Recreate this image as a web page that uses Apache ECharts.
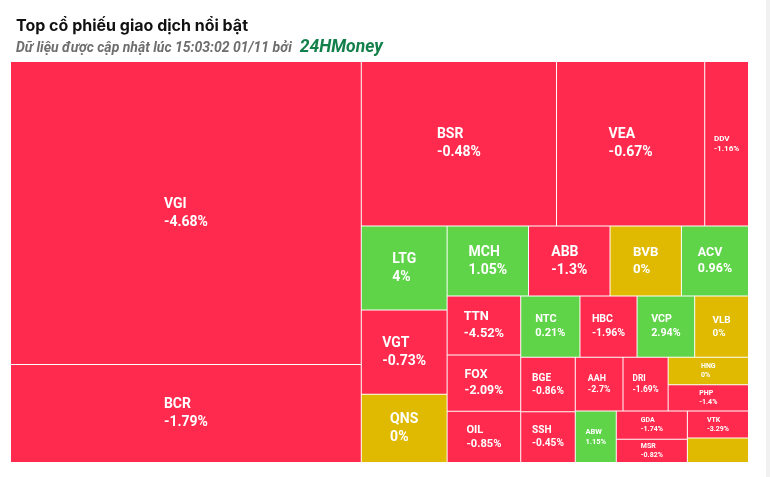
<!DOCTYPE html>
<html>
<head>
<meta charset="utf-8">
<script src="https://cdn.jsdelivr.net/npm/echarts@6/dist/echarts.min.js"></script>
<style>
html,body{margin:0;padding:0;background:#fff;}
#c{width:770px;height:477px;}
</style>
</head>
<body>
<div id="c"></div>
<script>
// ---- data ----
const names   = ['VGI','BCR','BSR','VEA','DDV','LTG','VGT','QNS','MCH','ABB','BVB','ACV','TTN','FOX','OIL','NTC','HBC','VCP','VLB','BGE','SSH','AAH','DRI','HNG','PHP','ABW','GDA','MSR','VTK',''];
const changes = [-4.68,-1.79,-0.48,-0.67,-1.16,4,-0.73,0,1.05,-1.3,0,0.96,-4.52,-2.09,-0.85,0.21,-1.96,2.94,0,-0.86,-0.45,-2.7,-1.69,0,-1.4,1.15,-1.74,-0.82,-3.29,0];
const values  = [10590,3422,3198,2427,717,720,720,583,569,570,499,469,431,414,375,361,348,351,328,296,276,256,242,220,211,210,200,164,164,149];
// grouping of the cells (indices into the arrays above), in reading order
const groups  = [0,1,2,3,4,5,6,7,[[8,9,10,11],[12,13,14,[[15,16,17,18],[19,20,[[21,22,[23,24]],[25,[26,27,28,29]]]]]]]];

const RED = '#ff2a4d', GREEN = '#5fd449', YELLOW = '#dfba00';
const colorOf = c => c > 0 ? GREEN : (c < 0 ? RED : YELLOW);
const pct = c => c + '%';
const changeOf = {};
names.forEach((n, i) => { if (n) changeOf[n] = changes[i]; });

function leaf(i, sizes) {
  const item = { name: names[i], value: values[i], itemStyle: { color: colorOf(changes[i]) } };
  if (!names[i]) item.label = { show: false };
  else if (sizes && sizes[i]) item.label = sizes[i];
  return item;
}
function build(spec, sizes) {
  return spec.map(s => Array.isArray(s) ? { name: '', children: build(s, sizes) } : leaf(s, sizes));
}

const chart = echarts.init(document.getElementById('c'), null, { renderer: 'canvas' });

const option = {
  animation: false,
  backgroundColor: '#fff',
  title: [
    { text: 'Top cổ phiếu giao dịch nổi bật', left: 11, top: 13,
      textStyle: { fontFamily: 'Inter', fontWeight: 'bold', fontSize: 16, color: '#111' } },
    { text: '{a|Dữ liệu được cập nhật lúc 15:03:02 01/11 bởi}{b|24HMoney}', left: 11, top: 34,
      textStyle: { rich: {
        a: { fontFamily: 'Roboto', fontStyle: 'italic', fontSize: 14, color: '#6e6e6e' },
        b: { fontFamily: 'Roboto', fontStyle: 'italic', fontWeight: 'bold', fontSize: 17.5, color: '#13804b', padding: [0, 0, 0, 8] }
      } } }
  ],
  graphic: [
    { type: 'rect', left: 766, top: 0, shape: { width: 4, height: 477 }, style: { fill: '#f1f1f1' }, silent: true }
  ],
  series: [{
    type: 'treemap',
    left: 11, top: 62, width: 737, height: 400,
    squareRatio: 1.75,
    sort: false,
    roam: false,
    nodeClick: false,
    breadcrumb: { show: false },
    itemStyle: { borderWidth: 0, gapWidth: 1, borderColor: '#fff' },
    label: {
      show: true, position: 'inside', color: '#fff',
      fontFamily: 'Roboto', fontWeight: 'bold', fontSize: 14, lineHeight: 18,
      formatter: p => p.name ? p.name + '\n' + pct(changeOf[p.name]) : ''
    },
    upperLabel: { show: false },
    data: build(groups)
  }]
};
chart.setOption(option);

// size each label from the laid-out cell size
function sizeLabels() {
  const sizes = {};
  try {
    const data = chart.getModel().getSeriesByIndex(0).getData();
    const ctx = document.createElement('canvas').getContext('2d');
    data.tree.root.eachNode(node => {
      if (node.children && node.children.length) return;
      const i = names.indexOf(node.name);
      if (i < 0 || !names[i]) return;
      const l = node.getLayout();
      if (!l) return;
      const fs = Math.max(7, Math.min(14, Math.min(l.width, l.height) / 4.5, l.width / 5.3));
      ctx.font = 'bold ' + fs + 'px Roboto';
      const tw = Math.max(ctx.measureText(names[i]).width, ctx.measureText(pct(changes[i])).width);
      sizes[i] = { fontSize: fs, lineHeight: Math.round(fs * 1.3), align: 'left', offset: [-tw / 2, 0], padding: 0 };
    });
  } catch (e) { console.error(e); }
  return sizes;
}
const sizes = sizeLabels();
chart.setOption({ series: [{ data: build(groups, sizes) }] });
</script>
</body>
</html>
